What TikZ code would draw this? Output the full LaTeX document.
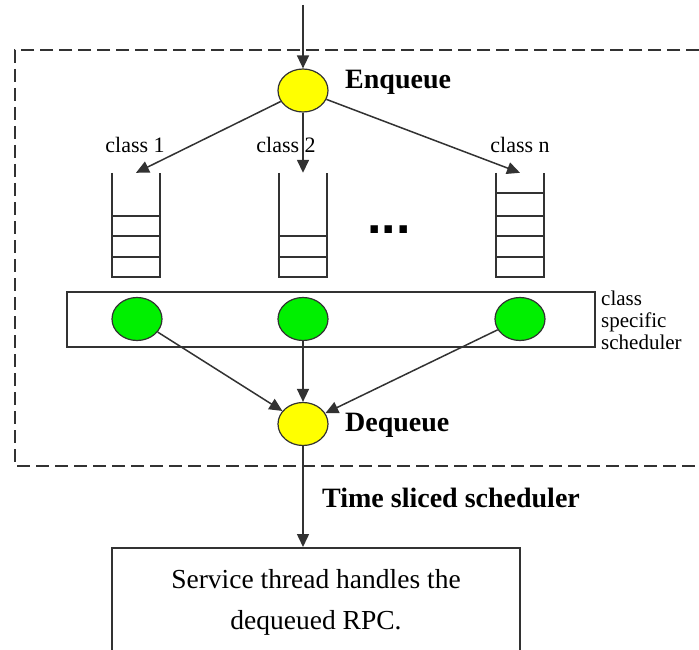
\documentclass[tikz,border=0pt]{standalone}
\usepackage{fontspec}
\setmainfont{Liberation Serif}
\newfontfamily\dotsfont{Liberation Sans}
\usetikzlibrary{arrows.meta,shapes.geometric}
\definecolor{lnc}{RGB}{50,50,50}
\definecolor{ylw}{RGB}{255,255,0}
\definecolor{grn}{RGB}{0,240,0}
\begin{document}
\begin{tikzpicture}[x=1pt,y=-1pt,
  line/.style={draw=lnc, line width=1.5pt},
  arr/.style={line, -{Triangle[length=13pt,width=12pt]}},
  yellownode/.style={ellipse, draw=lnc, line width=1.2pt, fill=ylw, minimum width=50pt, minimum height=43pt, inner sep=0pt},
  greennode/.style={ellipse, draw=lnc, line width=1.2pt, fill=grn, minimum width=50pt, minimum height=43pt, inner sep=0pt},
  queue/.style={minimum width=48pt, minimum height=104pt, inner sep=0pt},
  lbl/.style={font=\fontsize{22}{24}\selectfont, inner sep=0pt},
  boldlbl/.style={font=\fontsize{28}{30}\selectfont\bfseries, inner sep=0pt, anchor=west},
]
\useasboundingbox (0,0) rectangle (699,650);
\clip (0,0) rectangle (699,650);
\fill[white] (0,0) rectangle (699,650);

% dashed frame
\draw[line, line width=1.8pt, dash pattern=on 13pt off 6pt] (699,50) -- (15,50) -- (15,466) -- (699,466);

% enqueue
\coordinate (in) at (303,5);
\node[yellownode] (enq) at (303,90.5) {};
\node[boldlbl] (enqt) at (345,82) {Enqueue};
\draw[arr] (in) -- (enq);

% queues
\node[queue] (q1) at (136,225) {};
\node[queue] (q2) at (303,225) {};
\node[queue] (qn) at (520,225) {};
\foreach \q in {q1,q2,qn}
  \draw[line] (\q.north west) -- (\q.south west) -- (\q.south east) -- (\q.north east);
\foreach \d in {20,41,61}
  \draw[line] ([yshift=\d pt]q1.south west) -- ([yshift=\d pt]q1.south east);
\foreach \d in {20,41}
  \draw[line] ([yshift=\d pt]q2.south west) -- ([yshift=\d pt]q2.south east);
\foreach \d in {20,41,61,84}
  \draw[line] ([yshift=\d pt]qn.south west) -- ([yshift=\d pt]qn.south east);

\node[lbl] (c1) at (135,145) {class 1};
\node[lbl] (c2) at (286,145) {class 2};
\node[lbl] (cn) at (520,145) {class n};

\draw[arr] (enq) -- (q1.north);
\draw[arr] (enq) -- (q2.north);
\draw[arr] (enq) -- (qn.north);

\node[font=\dotsfont\bfseries\fontsize{52}{52}\selectfont, anchor=base, inner sep=0pt] (dots) at (389,233.5) {...};

% class specific scheduler
\node[line, rectangle, minimum width=528pt, minimum height=55pt, inner sep=0pt] (sched) at (331,319.5) {};
\node[greennode] (g1) at (137,319) {};
\node[greennode] (g2) at (303,319) {};
\node[greennode] (gn) at (520,319) {};
\node[anchor=west, align=left, inner sep=0pt, font=\fontsize{21}{22}\selectfont] (schedt) at (601,320) {class\\specific\\scheduler};

% dequeue
\node[yellownode] (deq) at (303,424) {};
\node[boldlbl] (deqt) at (345,425) {Dequeue};
\draw[arr] (g1) -- (deq);
\draw[arr] (g2) -- (deq);
\draw[arr] (gn) -- (deq);

% time sliced scheduler
\node[boldlbl] (tss) at (322,498) {Time sliced scheduler};

% service box
\node[line, rectangle, minimum width=408pt, minimum height=110pt, anchor=north, align=center, inner sep=0pt,
      font=\fontsize{27.5}{41}\selectfont] (svc) at (316,547) {Service thread handles the\\dequeued RPC.};
\draw[arr] (deq) -- (deq |- svc.north);
\end{tikzpicture}
\end{document}
